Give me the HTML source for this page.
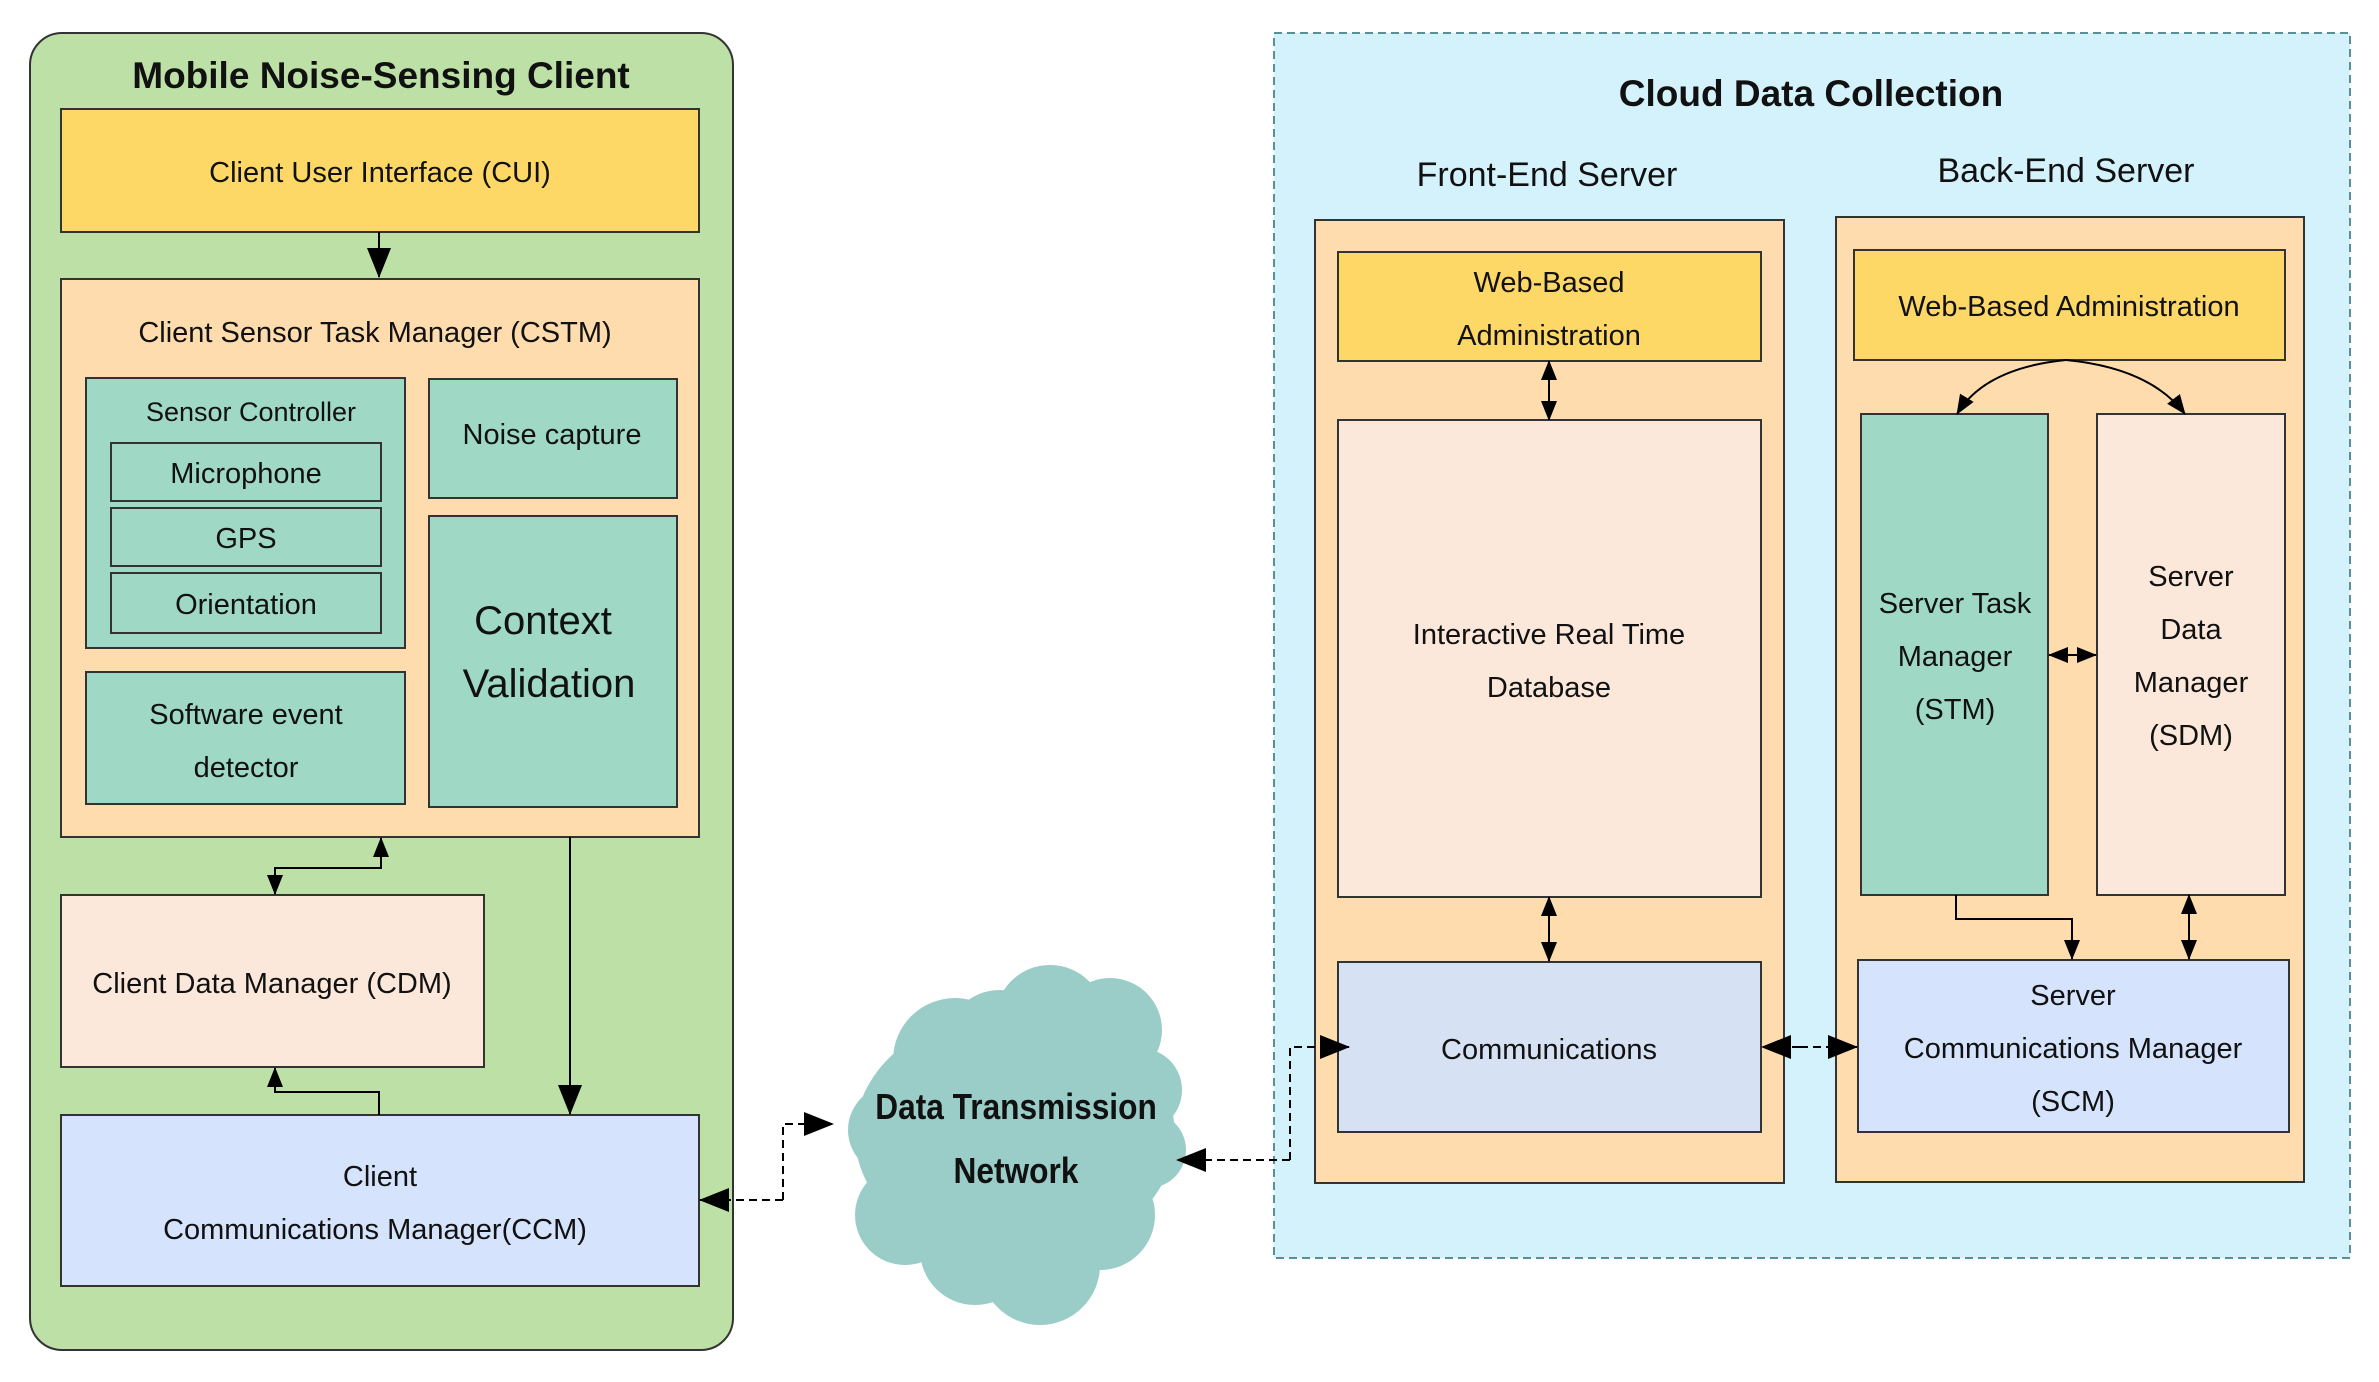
<!DOCTYPE html>
<html><head><meta charset="utf-8"><style>
html,body{margin:0;padding:0;background:#fff;}
svg{display:block;}
text{font-family:"Liberation Sans",sans-serif;fill:#111;}
</style></head><body>
<svg width="2379" height="1382" viewBox="0 0 2379 1382" xmlns="http://www.w3.org/2000/svg">
<defs>
<marker id="A" markerWidth="30" markerHeight="30" refX="29" refY="15" orient="auto" markerUnits="userSpaceOnUse" viewBox="0 0 30 30"><path d="M0,3 L30,15 L0,27 z" fill="#000"/></marker>
<marker id="m" markerWidth="20" markerHeight="20" refX="19" refY="10" orient="auto" markerUnits="userSpaceOnUse" viewBox="0 0 20 20"><path d="M0,2 L20,10 L0,18 z" fill="#000"/></marker>
</defs>
<g stroke="#333" stroke-width="2">
<rect x="30" y="33" width="703" height="1317" rx="32" fill="#bde0a6"/>
<rect x="61" y="109" width="638" height="123" fill="#fdd866"/>
<rect x="61" y="279" width="638" height="558" fill="#fedcad"/>
<rect x="86" y="378" width="319" height="270" fill="#9fd9c6"/>
<rect x="111" y="443" width="270" height="58" fill="#9fd9c6"/>
<rect x="111" y="508" width="270" height="58" fill="#9fd9c6"/>
<rect x="111" y="573" width="270" height="60" fill="#9fd9c6"/>
<rect x="429" y="379" width="248" height="119" fill="#9fd9c6"/>
<rect x="429" y="516" width="248" height="291" fill="#9fd9c6"/>
<rect x="86" y="672" width="319" height="132" fill="#9fd9c6"/>
<rect x="61" y="895" width="423" height="172" fill="#fbe8db"/>
<rect x="61" y="1115" width="638" height="171" fill="#d5e3fc"/>
<rect x="1274" y="33" width="1076" height="1225" fill="#d4f2fc" stroke="#5a8e99" stroke-dasharray="8,5"/>
<rect x="1315" y="220" width="469" height="963" fill="#fedcad"/>
<rect x="1338" y="252" width="423" height="109" fill="#fdd866"/>
<rect x="1338" y="420" width="423" height="477" fill="#fbe8db"/>
<rect x="1338" y="962" width="423" height="170" fill="#d6e1f3"/>
<rect x="1836" y="217" width="468" height="965" fill="#fedcad"/>
<rect x="1854" y="250" width="431" height="110" fill="#fdd866"/>
<rect x="1861" y="414" width="187" height="481" fill="#9fd9c6"/>
<rect x="2097" y="414" width="188" height="481" fill="#fbe8db"/>
<rect x="1858" y="960" width="431" height="172" fill="#d5e3fc"/>
</g>
<g fill="#9acdc8">
<ellipse cx="1015" cy="1135" rx="160" ry="125"/>
<circle cx="955" cy="1060" r="62"/><circle cx="1050" cy="1020" r="55"/><circle cx="1110" cy="1030" r="52"/>
<circle cx="1140" cy="1090" r="42"/><circle cx="1148" cy="1150" r="38"/><circle cx="893" cy="1130" r="45"/>
<circle cx="905" cy="1215" r="50"/><circle cx="975" cy="1250" r="55"/><circle cx="1040" cy="1265" r="60"/><circle cx="1100" cy="1215" r="55"/>
<circle cx="1000" cy="1045" r="55"/>
</g>
<g stroke="#000" stroke-width="2" fill="none">
<path d="M379,232 V277" marker-end="url(#A)"/>
<path d="M275,894 V868 H381 V838" marker-end="url(#m)"/>
<path d="M275,880 V894" marker-end="url(#m)"/>
<path d="M379,1115 V1092 H275 V1068" marker-end="url(#m)"/>
<path d="M570,837 V1114" marker-end="url(#A)"/>
<path d="M783,1200 H700" stroke-dasharray="8,5" marker-end="url(#A)"/>
<path d="M783,1200 V1124 H833" stroke-dasharray="8,5" marker-end="url(#A)"/>
<path d="M1290,1160 H1177" stroke-dasharray="8,5" marker-end="url(#A)"/>
<path d="M1290,1160 V1047 H1349" stroke-dasharray="8,5" marker-end="url(#A)"/>
<path d="M1800,1047 H1762" stroke-dasharray="8,5" marker-end="url(#A)"/>
<path d="M1800,1047 H1857" stroke-dasharray="8,5" marker-end="url(#A)"/>
<path d="M1549,390 V361" marker-end="url(#m)"/><path d="M1549,390 V420" marker-end="url(#m)"/>
<path d="M1549,930 V897" marker-end="url(#m)"/><path d="M1549,930 V961" marker-end="url(#m)"/>
<path d="M2189,928 V895" marker-end="url(#m)"/><path d="M2189,928 V959" marker-end="url(#m)"/>
<path d="M2072,655 H2049" marker-end="url(#m)"/><path d="M2072,655 H2096" marker-end="url(#m)"/>
<path d="M1956,895 V919 H2072 V959" marker-end="url(#m)"/>
<path d="M2066,360 Q1985,368 1957,414" marker-end="url(#m)"/>
<path d="M2066,360 Q2150,368 2185,414" marker-end="url(#m)"/>
</g>
<g text-anchor="middle" font-size="29">
<text x="381" y="88" font-size="37" font-weight="bold">Mobile Noise-Sensing Client</text>
<text x="380" y="182">Client User Interface (CUI)</text>
<text x="375" y="342">Client Sensor Task Manager (CSTM)</text>
<text x="251" y="421" font-size="27">Sensor Controller</text>
<text x="246" y="483">Microphone</text>
<text x="246" y="548">GPS</text>
<text x="246" y="614">Orientation</text>
<text x="552" y="444">Noise capture</text>
<text x="543" y="634" font-family="DejaVu Sans,sans-serif" font-size="40">Context</text>
<text x="549" y="697" font-family="DejaVu Sans,sans-serif" font-size="40">Validation</text>
<text x="246" y="724">Software event</text>
<text x="246" y="777">detector</text>
<text x="272" y="993">Client Data Manager (CDM)</text>
<text x="380" y="1186">Client</text>
<text x="375" y="1239">Communications Manager(CCM)</text>
<g transform="translate(1016,0) scale(0.88,1)"><text x="0" y="1119" font-size="36" font-weight="bold">Data Transmission</text>
<text x="0" y="1183" font-size="36" font-weight="bold">Network</text></g>
<text x="1811" y="106" font-size="37" font-weight="bold">Cloud Data Collection</text>
<text x="1547" y="186" font-size="34">Front-End Server</text>
<text x="2066" y="182" font-size="34">Back-End Server</text>
<text x="1549" y="292">Web-Based</text>
<text x="1549" y="345">Administration</text>
<text x="1549" y="644">Interactive Real Time</text>
<text x="1549" y="697">Database</text>
<text x="1549" y="1059">Communications</text>
<text x="2069" y="316">Web-Based Administration</text>
<text x="1955" y="613">Server Task</text>
<text x="1955" y="666">Manager</text>
<text x="1955" y="719">(STM)</text>
<text x="2191" y="586">Server</text>
<text x="2191" y="639">Data</text>
<text x="2191" y="692">Manager</text>
<text x="2191" y="745">(SDM)</text>
<text x="2073" y="1005">Server</text>
<text x="2073" y="1058">Communications Manager</text>
<text x="2073" y="1111">(SCM)</text>
</g>
</svg>
</body></html>
